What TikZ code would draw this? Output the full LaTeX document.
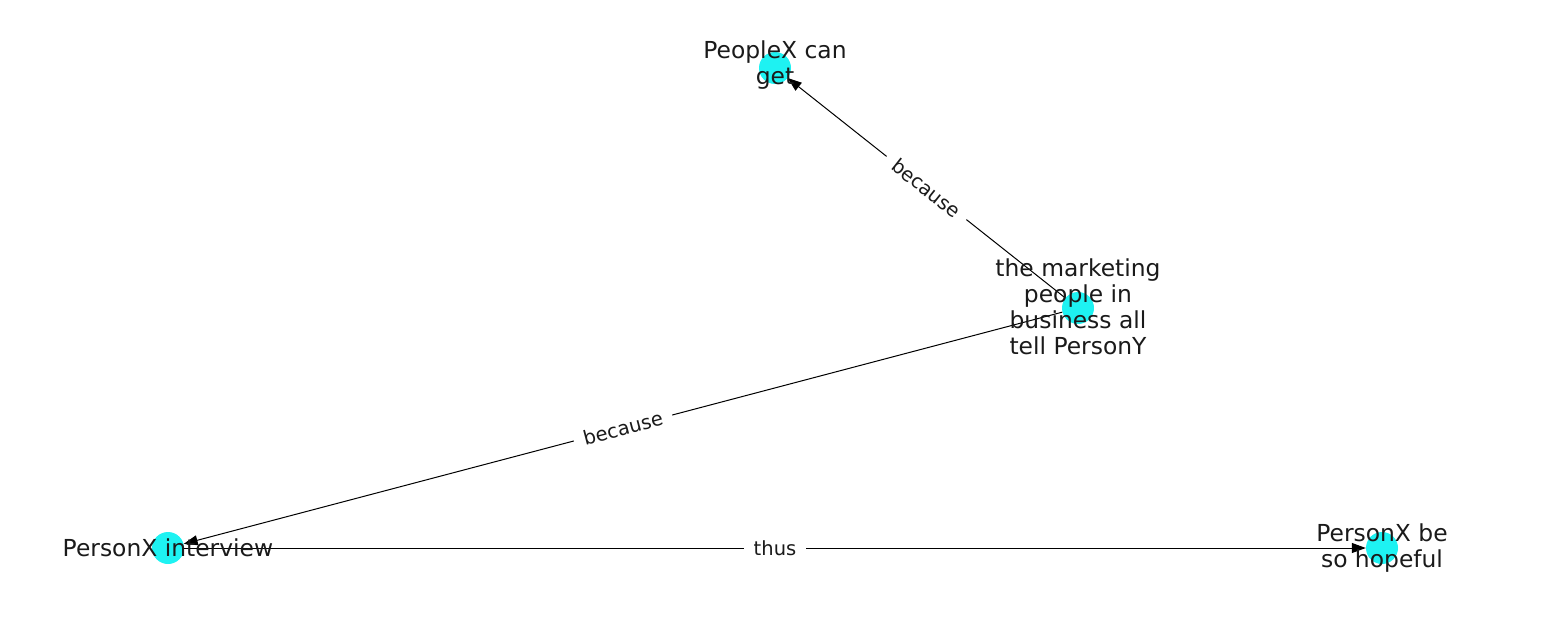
\documentclass[tikz,border=0pt]{standalone}
\usepackage{fontspec}
\setmainfont{DejaVu Sans}
\usetikzlibrary{arrows.meta}
\definecolor{nodecyan}{RGB}{30,242,242}
\definecolor{txt}{RGB}{26,26,26}
\tikzset{
  dot/.style={circle, fill=nodecyan, draw=none, minimum size=32pt, inner sep=0pt},
  lbl/.style={align=center, text=txt, font=\fontsize{23.4}{26}\selectfont, inner sep=0pt},
  edge/.style={line width=1pt, -{Triangle[length=14pt,width=10pt]}},
  elbl/.style={fill=white, text=txt, font=\fontsize{19.5}{22}\selectfont, inner xsep=10pt, inner ysep=5pt, sloped, midway}
}
\begin{document}
\begin{tikzpicture}[x=1pt,y=-1pt]
\useasboundingbox (0,0) rectangle (1550,616);
\node[dot] (pg) at (775,68) {};
\node[dot] (mk) at (1078,308) {};
\node[dot] (iv) at (168,548) {};
\node[dot] (hp) at (1382,548) {};
\draw[edge] (mk) -- node[elbl] {because} (pg);
\draw[edge] (mk) -- node[elbl] {because} (iv);
\draw[edge] (iv) -- node[elbl] {thus} (hp);
\node[lbl] (pgt) at (775,65) {PeopleX can\\get};
\node[lbl] (mkt) at (1078,307) {the marketing\\people in\\business all\\tell PersonY};
\node[lbl] (ivt) at (168,548) {PersonX interview};
\node[lbl] (hpt) at (1382,548) {PersonX be\\so hopeful};
\end{tikzpicture}
\end{document}
